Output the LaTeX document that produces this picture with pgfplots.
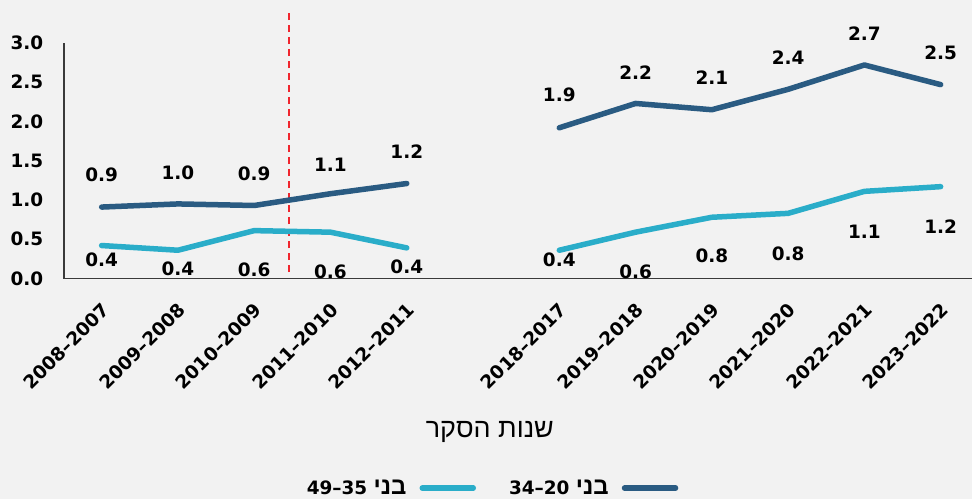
\documentclass[border=0pt]{standalone}
\usepackage{fontspec}
\setmainfont{DejaVu Sans}
\newfontfamily\hebfont[Script=Hebrew]{Liberation Sans}
\TeXXeTstate=1
\usepackage{pgfplots}
\usepackage{pgfplotstable}
\pgfplotsset{compat=1.18}
\definecolor{bg}{HTML}{F2F2F2}
\definecolor{darkser}{HTML}{2A5B82}
\definecolor{lightser}{HTML}{2AADC9}
\definecolor{axgray}{HTML}{3A3A3A}
\definecolor{refred}{HTML}{F0262E}
\newcommand{\lblfont}{\bfseries\fontsize{18.5}{19}\selectfont}

\pgfplotstableread{
x y lab off
0 0.91 0.9 32
1 0.95 1.0 31
2 0.93 0.9 32
3 1.08 1.1 29
4 1.21 1.2 32
5 nan - 0
6 1.92 1.9 33
7 2.23 2.2 31
8 2.15 2.1 32
9 2.41 2.4 32
10 2.72 2.7 31
11 2.47 2.5 32
}\darktable

\pgfplotstableread{
x y lab off
0 0.42 0.4 -14
1 0.36 0.4 -19
2 0.61 0.6 -39
3 0.59 0.6 -40
4 0.39 0.4 -19
5 nan - 0
6 0.36 0.4 -10
7 0.59 0.6 -40
8 0.78 0.8 -39
9 0.83 0.8 -40
10 1.11 1.1 -40
11 1.17 1.2 -40
}\lighttable

\begin{document}
\begin{tikzpicture}
\useasboundingbox (0,0) rectangle (972bp,499bp);
\fill[bg] (0,0) rectangle (972bp,499bp);
\begin{axis}[
  at={(64bp,220.5bp)}, anchor=south west,
  scale only axis, width=908bp, height=235.5bp,
  xmin=-0.494, xmax=11.411, ymin=0, ymax=3,
  clip=false,
  axis x line*=bottom, axis y line*=left,
  axis line style={axgray, line width=1.3bp, -},
  major tick length=0pt,
  ytick={0,0.5,1,1.5,2,2.5,3},
  yticklabels={0.0,0.5,1.0,1.5,2.0,2.5,3.0},
  yticklabel style={anchor=east, inner sep=0pt, xshift=-20.5bp, font=\lblfont},
  xtick={0,1,2,3,4,6,7,8,9,10,11},
  xticklabels={2008–2007,2009–2008,2010–2009,2011–2010,2012–2011,2018–2017,2019–2018,2020–2019,2021–2020,2022–2021,2023–2022},
  xticklabel style={xshift=-1bp, yshift=-23bp, rotate=45, anchor=north east, inner sep=0pt, font=\lblfont},
  xlabel={\hebfont\fontsize{27}{27}\selectfont\beginR שנות הסקר\endR},
  xlabel style={at={(rel axis cs:0.469,-0.652)}, anchor=center, inner sep=0pt},
  unbounded coords=jump,
  legend plot pos=right,
  legend columns=2,
  legend image code/.code={\path (0bp,0bp) (57bp,0bp); \draw[#1] (3bp,0bp) -- (54bp,0bp);},
  legend style={draw=none, fill=none, inner sep=0pt, outer sep=0pt,
    at={(0.4736,-0.890)}, anchor=center,
    column sep=10bp,
    nodes={inner sep=0pt, font=\lblfont}},
]
\addlegendimage{lightser, line width=5.5bp, line cap=round}
\addlegendentry{49–35 {\hebfont\bfseries\fontsize{24}{24}\selectfont\beginR בני\endR}}
\addlegendimage{darkser, line width=5.5bp, line cap=round}
\addlegendentry{\hspace{20bp}34–20 {\hebfont\bfseries\fontsize{24}{24}\selectfont\beginR בני\endR}}

\addplot[refred, line width=2bp, dash pattern=on 7bp off 5bp, forget plot] coordinates {(2.45,0.08) (2.45,3.4)};

\addplot[darkser, line width=5.5bp, line cap=round, line join=round, forget plot,
  nodes near coords, point meta=explicit symbolic,
  visualization depends on={\thisrow{off}\as\myoff},
  every node near coord/.append style={anchor=center, inner sep=0pt, yshift=\myoff bp, font=\lblfont, text=black}]
  table[x=x, y=y, meta=lab] {\darktable};

\addplot[lightser, line width=5.5bp, line cap=round, line join=round, forget plot,
  nodes near coords, point meta=explicit symbolic,
  visualization depends on={\thisrow{off}\as\myoff},
  every node near coord/.append style={anchor=center, inner sep=0pt, yshift=\myoff bp, font=\lblfont, text=black}]
  table[x=x, y=y, meta=lab] {\lighttable};
\end{axis}
\end{tikzpicture}
\end{document}
